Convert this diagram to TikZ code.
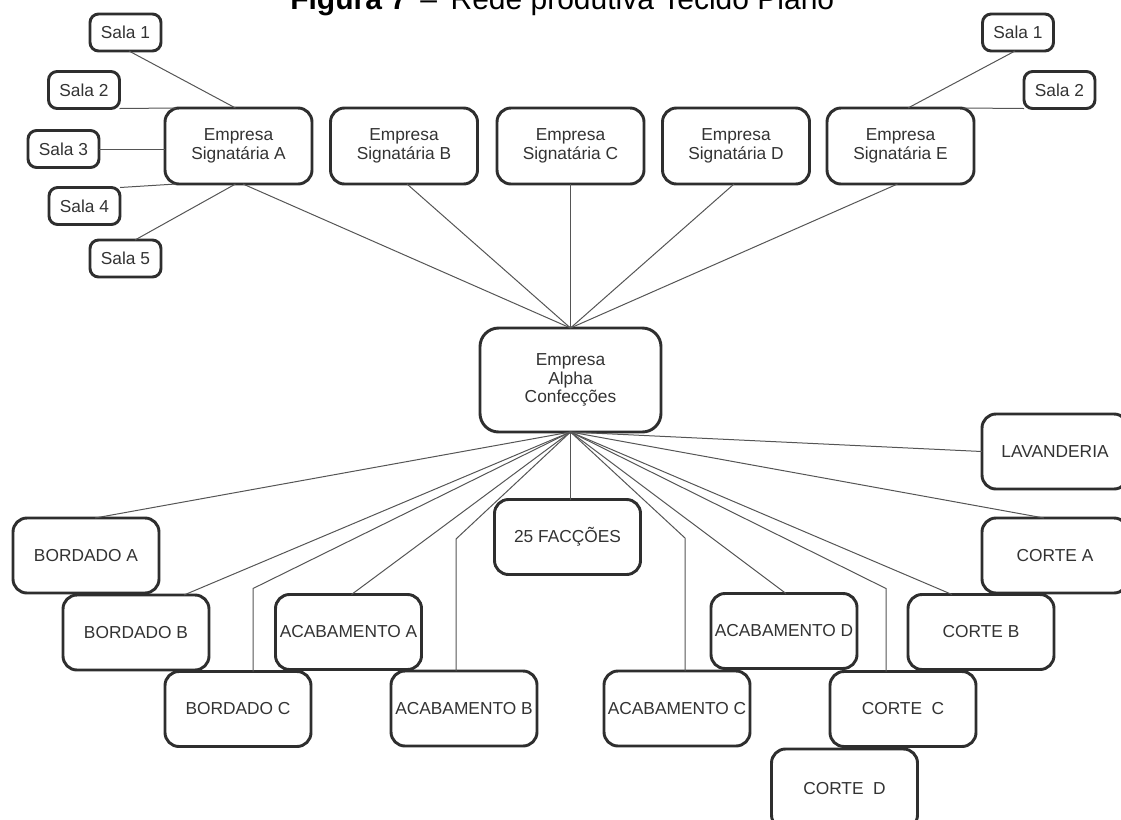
\documentclass[tikz,border=0pt]{standalone}
\usepackage{fontspec}
\setmainfont{Liberation Sans}
\usetikzlibrary{calc}
\definecolor{boxc}{HTML}{2E2E2E}
\definecolor{txt}{HTML}{333333}
\definecolor{linec}{HTML}{555555}
\newcommand{\labfont}{\fontsize{13pt}{13.9pt}\selectfont}
\tikzset{
  box/.style={draw=boxc, line width=2.2pt, rounded corners=10.5pt, fill=white, text=txt, font=\labfont, align=center, inner sep=0pt, outer sep=0pt},
  bw/.style={minimum width=#1*0.75pt},
  bh/.style={minimum height=#1*0.75pt},
  sala/.style={box, rounded corners=6.5pt, bw=71, bh=37},
  emp/.style={box, bw=147, bh=76},
  bot/.style={box, bw=146, bh=75},
  conn/.style={draw=linec, line width=0.75pt}
}
\begin{document}
\begin{tikzpicture}[x=0.75pt,y=-0.75pt]
\useasboundingbox (0,0) rectangle (1121,819);
% title
\node[anchor=base west, inner sep=0pt, font=\fontsize{22.5pt}{27pt}\selectfont, text=black] (title) at (290,9) {\textbf{Figura 7}\hspace{0.45em}–\hspace{0.45em}Rede produtiva Tecido Plano};
% salas
\node[sala] (s1l) at (125.5,32.5) {Sala 1};
\node[sala] (s2l) at (84,90) {Sala 2};
\node[sala] (s3) at (63.5,149) {Sala 3};
\node[sala] (s4) at (84.5,206) {Sala 4};
\node[sala] (s5) at (125.5,258.5) {Sala 5};
\node[sala] (s1r) at (1018,32.5) {Sala 1};
\node[sala] (s2r) at (1059.5,90) {Sala 2};
% signatarias
\node[emp] (ea) at (238.5,146) {Empresa\\Signatária A};
\node[emp] (eb) at (404,146) {Empresa\\Signatária B};
\node[emp] (ec) at (570.5,146) {Empresa\\Signatária C};
\node[emp] (ed) at (736,146) {Empresa\\Signatária D};
\node[emp] (ee) at (900.5,146) {Empresa\\Signatária E};
% alpha
\node[box, bw=181, bh=104, rounded corners=14pt] (alpha) at (570.5,380) {Empresa\\Alpha\\Confecções};
% bottom
\node[bot] (ba) at (86,555.5) {BORDADO A};
\node[bot] (bb) at (136,632.5) {BORDADO B};
\node[bot] (bc) at (238,709) {BORDADO C};
\node[bot] (aa) at (348.5,632) {ACABAMENTO A};
\node[bot] (ab) at (464,708.5) {ACABAMENTO B};
\node[bot] (f25) at (567.5,537) {25 FACÇÕES};
\node[bot] (ac) at (677,708.5) {ACABAMENTO C};
\node[bot] (ad) at (784,631) {ACABAMENTO D};
\node[bot] (cb) at (981,632) {CORTE B};
\node[bot] (cc) at (903,709) {CORTE\ \ C};
\node[bot, bh=80] (cd) at (844.5,789) {CORTE\ \ D};
\node[bot] (ca) at (1055,555.5) {CORTE A};
\node[bot] (lav) at (1055,451.5) {LAVANDERIA};
% connectors: salas
\draw[conn] ($(s1l.south)+(3.5,0)$) -- ($(ea.north)+(-3,0)$);
\draw[conn] (s2l.south east) -- ($(ea.north west)+(11,0)$);
\draw[conn] (s3.east) -- (s3.east -| ea.west);
\draw[conn] (s4.north east) -- ($(ea.south west)+(11,0)$);
\draw[conn] ($(s5.north)+(9.5,0)$) -- ($(ea.south)+(-3,0)$);
\draw[conn] ($(s1r.south)+(-3,0)$) -- ($(ee.north)+(7.5,0)$);
\draw[conn] (s2r.south west) -- ($(ee.north east)+(-11,0)$);
% connectors: signatarias to alpha
\draw[conn] ($(ea.south)+(4.5,0)$) -- (alpha.north);
\draw[conn] ($(eb.south)+(3,0)$) -- (alpha.north);
\draw[conn] (ec.south) -- (alpha.north);
\draw[conn] ($(ed.south)+(-2,0)$) -- (alpha.north);
\draw[conn] ($(ee.south)+(-3,0)$) -- (alpha.north);
% connectors: alpha to bottom
\draw[conn] (alpha.south) -- ($(ba.north)+(9,0)$);
\draw[conn] (alpha.south) -- ($(bb.north)+(48,0)$);
\draw[conn] (alpha.south) -- ($(bc.north)+(15,-83)$) -- ($(bc.north)+(15,0)$);
\draw[conn] (alpha.south) -- ($(aa.north)+(3,0)$);
\draw[conn] (alpha.south) -- ($(ab.north)+(-8,-132)$) -- ($(ab.north)+(-8,0)$);
\draw[conn] (alpha.south) -- (alpha.south |- f25.north);
\draw[conn] (alpha.south) -- ($(ac.north)+(8,-133)$) -- ($(ac.north)+(8,0)$);
\draw[conn] (alpha.south) -- ($(ad.north)+(2,0)$);
\draw[conn] (alpha.south) -- ($(cc.north)+(-17,-83)$) -- ($(cc.north)+(-17,0)$);
\draw[conn] (alpha.south) -- ($(cb.north)+(-29,0)$);
\draw[conn] (alpha.south) -- ($(ca.north)+(-11,0)$);
\draw[conn] (alpha.south) -- (lav.west);
\end{tikzpicture}
\end{document}
